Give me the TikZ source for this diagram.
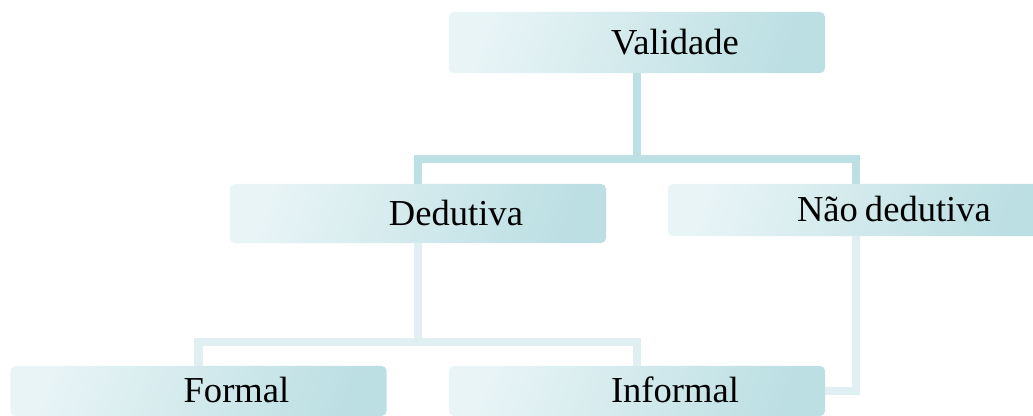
\documentclass[tikz,border=0pt]{standalone}
\usepackage{fontspec}
\setmainfont{Liberation Serif}
\definecolor{boxlight}{HTML}{E8F4F6}
\definecolor{boxdark}{HTML}{BCDFE3}
\definecolor{linedark}{HTML}{BCE0E4}
\definecolor{linelight}{HTML}{E0F0F2}
\tikzset{
  termbox/.style = {rounded corners=3.5pt, top color=boxlight, bottom color=boxdark, shading angle=70,
    text width=9.4cm, inner xsep=0pt, inner ysep=0pt, align=center,
    font=\fontsize{26pt}{30pt}\selectfont, text height=17pt, text depth=0pt},
  upline/.style = {draw=linedark, line width=5.7pt},
  lowline/.style = {draw=linelight, line width=5.7pt}
}
\newcommand{\shiftx}{\hspace*{54pt}}
\begin{document}
\begin{tikzpicture} [x = .025cm, y = -.025cm]
          \useasboundingbox (0,0) rectangle (1033,415);
          \node[termbox, minimum height=1.525cm] (val) at (637,42.5) {\shiftx Validade};
          \node[termbox, minimum height=1.475cm] (ded) at (418,213.5) {\shiftx Dedutiva};
          \node[termbox, minimum height=1.3cm] (nded) at (856,210) {\shiftx Não\hspace{5pt}dedutiva};
          \node[termbox, minimum height=1.25cm] (form) at (198.5,391) {\shiftx Formal};
          \node[termbox, minimum height=1.25cm] (inf) at (637,391) {\shiftx Informal};
          \coordinate (jtop) at (637,159);
          \coordinate (jlow) at (418,342);
          % upper level
          \draw[upline] (val.south) -- (jtop);
          \draw[upline] (ded.north) -- (ded.north |- jtop) -- (nded.north |- jtop) -- (nded.north);
          % lower level
          \draw[lowline] (ded.south) -- (jlow);
          \draw[lowline] (form.north) -- (form.north |- jlow) -- (inf.north |- jlow) -- (inf.north);
          \draw[lowline] (nded.south) |- (inf.east);
        \end{tikzpicture}
\end{document}
